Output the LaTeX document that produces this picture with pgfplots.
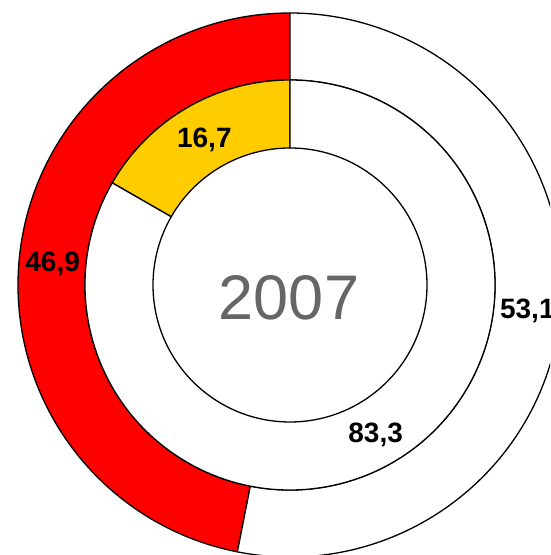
\documentclass[border=0pt]{standalone}
\usepackage{fontspec}
\setmainfont{Liberation Sans}
\usepackage{pgfplots}
\pgfplotsset{compat=1.18}

\definecolor{segred}{HTML}{FF0000}
\definecolor{segyellow}{HTML}{FFCC00}
\definecolor{yeargray}{HTML}{666666}

% one ring of the donut: #1 inner radius, #2 outer radius, #3 list value/colour/label
\newcommand{\donutring}[3]{%
  \gdef\startang{90}%
  \foreach \v/\c/\lab in {#3}{%
    \pgfmathsetmacro\endang{\startang+3.6*\v}%
    \pgfmathsetmacro\midang{(\startang+\endang)/2}%
    \pgfmathsetmacro\midr{(#1+#2)/2}%
    \filldraw[fill=\c, draw=black, line width=1.3pt, line join=round]
      (\startang:#2pt) arc[start angle=\startang, end angle=\endang, radius=#2pt]
      -- (\endang:#1pt) arc[start angle=\endang, end angle=\startang, radius=#1pt] -- cycle;
    % baseline sits half a digit height below the mid point
    \node[font=\fontsize{28}{30}\selectfont\bfseries, anchor=base,
          inner sep=0pt, yshift=-10pt] at (\midang:\midr pt) {\lab};
    \xdef\startang{\endang}%
  }%
}

\begin{document}
\begin{tikzpicture}
\begin{axis}[
  hide axis,
  scale only axis,
  x=1pt, y=1pt,
  xmin=0, xmax=550,
  ymin=0, ymax=555,
  clip=false,
]
\pgfplotsextra{%
  \begin{scope}
    \clip (axis cs:0,0) rectangle (axis cs:550,555);
    \begin{scope}[shift={(axis cs:290,270)}]
      % outer ring
      \donutring{205}{272}{46.9/segred/{46,9}, 53.1/white/{53,1}}
      % inner ring
      \donutring{137}{205}{16.7/segyellow/{16,7}, 83.3/white/{83,3}}
      \node[font=\fontsize{63}{66}\selectfont, text=yeargray, anchor=base,
            inner sep=0pt] at (-1pt,-35pt) {2007};
    \end{scope}
  \end{scope}
}
\coordinate (bl) at (axis cs:0,0);
\coordinate (tr) at (axis cs:550,555);
\end{axis}
\pgfresetboundingbox
\path[use as bounding box] (bl) rectangle (tr);
\end{tikzpicture}
\end{document}
